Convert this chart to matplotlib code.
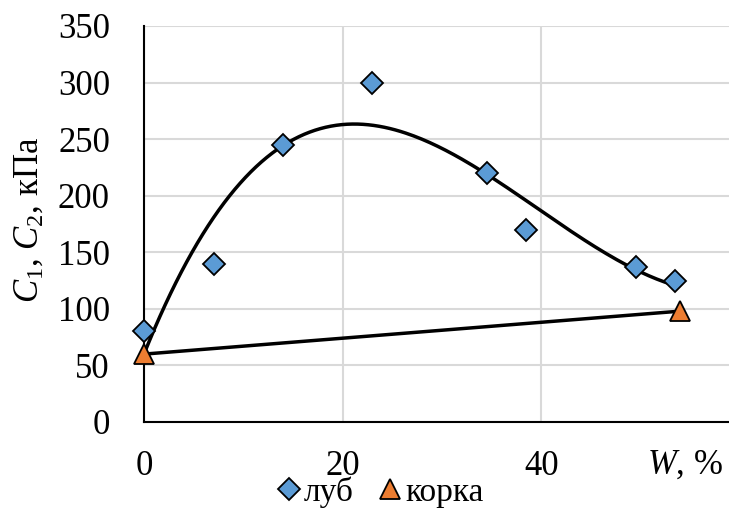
import numpy as np
import matplotlib.pyplot as plt

# data
lub_w = [0, 7, 14, 23, 34.5, 38.5, 49.5, 53.5]
lub_c = [80, 140, 245, 300, 220, 170, 137, 125]
korka_w = [0, 54]
korka_c = [60, 98]

y_ticks = [0, 50, 100, 150, 200, 250, 300, 350]
x_ticks = [0, 20, 40]

plt.rcParams["font.family"] = ["Liberation Serif", "DejaVu Serif"]
plt.rcParams["mathtext.fontset"] = "custom"
plt.rcParams["mathtext.rm"] = "Liberation Serif"
plt.rcParams["mathtext.it"] = "Liberation Serif:italic"

fig = plt.figure(figsize=(7.29, 5.08), dpi=100)
ax = fig.add_axes([144 / 729, 1 - 422 / 508, 600 / 729, 396 / 508])

# cubic trend line for луб (like the Excel polynomial trendline)
coef = np.polyfit(lub_w, lub_c, 3)
xs = np.linspace(min(lub_w), max(lub_w), 200)
ax.plot(xs, np.polyval(coef, xs), color="black", lw=2.5, zorder=2)
# linear trend for корка
ax.plot(korka_w, korka_c, color="black", lw=2.5, zorder=2)

ax.plot(lub_w, lub_c, ls="none", marker="D", ms=11, mfc="#5B9BD5",
        mec="black", mew=1.3, label="луб", zorder=3, clip_on=False)
ax.plot(korka_w, korka_c, ls="none", marker="^", ms=15, mfc="#ED7D31",
        mec="black", mew=1.3, label="корка", zorder=3, clip_on=False)

ax.set_xlim(0, 60.4)
ax.set_ylim(0, 350)
ax.set_xticks(x_ticks)
ax.set_yticks(y_ticks)
ax.tick_params(axis="both", length=0, labelsize=25)
ax.tick_params(axis="x", pad=20)
ax.tick_params(axis="y", pad=24.5)
ax.grid(True, color="#d9d9d9", lw=1.5)
ax.set_axisbelow(True)
for s in ["top", "right"]:
    ax.spines[s].set_visible(False)
for s in ["left", "bottom"]:
    ax.spines[s].set_linewidth(1.5)

fig.text(29 / 729, 1 - 220 / 508, r"$C_1$, $C_2$, кПа", fontsize=25,
         rotation=90, ha="center", va="center")
fig.text(685 / 729, 1 - 465 / 508, r"$W$, %", fontsize=25, ha="center", va="center")

fig.legend(loc="center", bbox_to_anchor=(381 / 729, 1 - 492 / 508), ncol=2,
           frameon=False, fontsize=24, handlelength=0.6, handletextpad=0.15,
           columnspacing=0.8, borderpad=0)

fig.savefig("out.png", dpi=100)
